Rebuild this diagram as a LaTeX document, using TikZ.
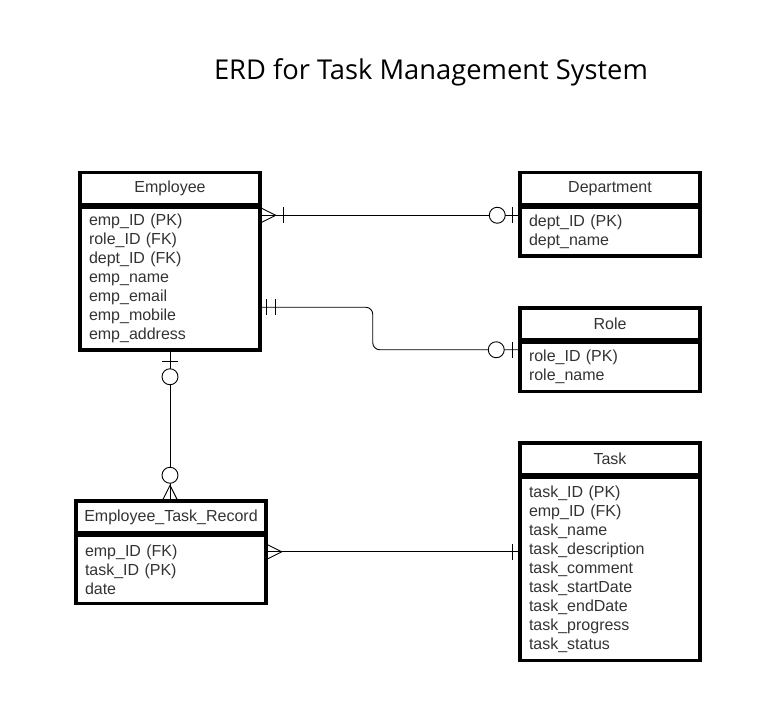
\documentclass[tikz,border=0pt]{standalone}
\usepackage{fontspec}
\setmainfont{Liberation Sans}
\newfontfamily\titlefont{Open Sans}
\usepackage{tikz}
\usetikzlibrary{calc}
\definecolor{ink}{HTML}{333333}
\tikzset{
  entity head/.style={draw,line width=3.5pt,minimum width=180pt,minimum height=32pt,
    inner sep=0pt,text=ink,font=\fontsize{16pt}{19pt}\selectfont},
  entity body/.style={draw,line width=3.5pt,anchor=north,align=left,text width=162pt,
    inner xsep=9pt,inner ysep=0pt,text=ink,font=\fontsize{16pt}{19pt}\selectfont},
  link/.style={draw,line width=0.9pt},
  crow foot/.pic={\draw[link] (0,-7) -- (14,0) -- (0,7);},
  one bar/.pic={\draw[link] (0,-8) -- (0,8);},
  zero ring/.pic={\draw[link,fill=white] (0,0) circle[radius=8pt];},
}

\begin{document}
\begin{tikzpicture}[x=1pt,y=-1pt]
\useasboundingbox (0,0) rectangle (781,718);
\node[font=\titlefont\fontsize{27.3pt}{32pt}\selectfont] (title) at (431,72) {ERD for Task Management System};

% entities
\node[entity head] (emp) at (170,188.5) {Employee};
\node[entity body,minimum height=143pt] (emp-body) at ([yshift=1pt]emp.south)
  {emp\_ID (PK)\\role\_ID (FK)\\dept\_ID (FK)\\emp\_name\\emp\_email\\emp\_mobile\\emp\_address};
\node[entity head] (dept) at (610,188.5) {Department};
\node[entity body,minimum height=49pt] (dept-body) at ([yshift=1pt]dept.south)
  {dept\_ID (PK)\\dept\_name};
\node[entity head] (role) at (610,324) {Role};
\node[entity body,minimum height=49pt] (role-body) at ([yshift=1pt]role.south)
  {role\_ID (PK)\\role\_name};
\node[entity head] (task) at (610,459) {Task};
\node[entity body,minimum height=183pt] (task-body) at ([yshift=1pt]task.south)
  {task\_ID (PK)\\emp\_ID (FK)\\task\_name\\task\_description\\task\_comment\\task\_startDate\\task\_endDate\\task\_progress\\task\_status};
\node[entity head,minimum width=190pt] (etr) at (171,517) {Employee\_Task\_Record};
\node[entity body,minimum height=68pt,text width=172pt] (etr-body) at ([yshift=1pt]etr.south)
  {emp\_ID (FK)\\task\_ID (PK)\\date};

% Employee -- Department
\coordinate (e1) at ($(emp-body.north east)+(0,10)$);
\coordinate (d1) at ($(dept-body.north west)+(0,10)$);
\draw[link] (e1) -- (d1);
\path (e1) pic {crow foot} ++(22,0) pic {one bar};
\path (d1) ++(-6,0) pic {one bar} ++(-15,0) pic {zero ring};

% Employee -- Role
\coordinate (e2) at ($(emp-body.north east)+(0,102)$);
\coordinate (r2) at ($(role-body.north west)+(0,9)$);
\draw[link,rounded corners=7pt] (e2) -- ++(111,0) |- (r2);
\path (e2) ++(5,0) pic {one bar} ++(9,0) pic {one bar};
\path (r2) ++(-6,0) pic {one bar} ++(-16,0) pic {zero ring};

% Employee -- Employee_Task_Record
\coordinate (e3) at (emp-body.south);
\coordinate (t3) at (emp-body.south |- etr.north);
\draw[link] (e3) -- (t3);
\path (e3) ++(0,10) pic[rotate=-90] {one bar} ++(0,15) pic {zero ring};
\path (t3) pic[rotate=90] {crow foot} ++(0,-24) pic {zero ring};

% Employee_Task_Record -- Task
\coordinate (t4) at ($(etr-body.north east)+(0,18)$);
\coordinate (k4) at (t4 -| task-body.west);
\draw[link] (t4) -- (k4);
\path (t4) pic {crow foot};
\path (k4) ++(-6,0) pic {one bar};
\end{tikzpicture}
\end{document}
